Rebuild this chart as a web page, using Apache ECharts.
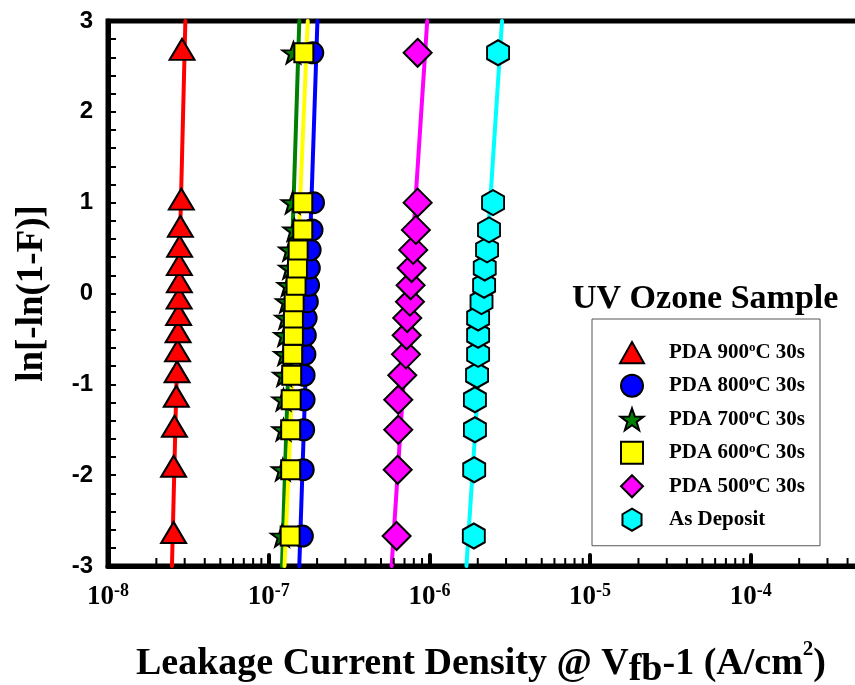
<!DOCTYPE html>
<html><head><meta charset="utf-8">
<script src="https://cdn.jsdelivr.net/npm/echarts@6/dist/echarts.min.js"></script>
<style>html,body{margin:0;padding:0;background:#fff}#c{width:855px;height:685px}</style>
</head><body><div id="c"></div>
<script>
// shared ln[-ln(1-F)] values (bottom to top)
const yValues = [-2.67, -1.94, -1.50, -1.17, -0.90, -0.67, -0.46, -0.27, -0.09, 0.09, 0.28, 0.48, 0.70, 1.00, 2.65];
const seriesNames = ['PDA 900°C 30s', 'PDA 800°C 30s', 'PDA 700°C 30s', 'PDA 600°C 30s', 'PDA 500°C 30s', 'As Deposit'];
// leakage current density (A/cm2) for each sample, same order as yValues
const j900 = [2.56e-8, 2.56e-8, 2.59e-8, 2.66e-8, 2.69e-8, 2.71e-8, 2.73e-8, 2.75e-8, 2.77e-8, 2.78e-8, 2.78e-8, 2.79e-8, 2.82e-8, 2.86e-8, 2.89e-8];
const j800 = [1.62e-7, 1.64e-7, 1.65e-7, 1.66e-7, 1.66e-7, 1.68e-7, 1.69e-7, 1.71e-7, 1.74e-7, 1.77e-7, 1.79e-7, 1.81e-7, 1.86e-7, 1.90e-7, 1.88e-7];
const j700 = [1.21e-7, 1.225e-7, 1.236e-7, 1.236e-7, 1.248e-7, 1.266e-7, 1.266e-7, 1.285e-7, 1.30e-7, 1.33e-7, 1.36e-7, 1.36e-7, 1.445e-7, 1.41e-7, 1.425e-7];
const j600 = [1.36e-7, 1.37e-7, 1.37e-7, 1.38e-7, 1.39e-7, 1.41e-7, 1.425e-7, 1.425e-7, 1.44e-7, 1.48e-7, 1.51e-7, 1.525e-7, 1.63e-7, 1.63e-7, 1.655e-7];
const j500 = [6.25e-7, 6.35e-7, 6.40e-7, 6.40e-7, 6.78e-7, 7.15e-7, 7.22e-7, 7.28e-7, 7.57e-7, 7.64e-7, 7.75e-7, 7.93e-7, 8.24e-7, 8.45e-7, 8.45e-7];
const jAsDep = [1.89e-6, 1.90e-6, 1.92e-6, 1.92e-6, 1.98e-6, 2.01e-6, 2.01e-6, 2.01e-6, 2.11e-6, 2.19e-6, 2.21e-6, 2.285e-6, 2.35e-6, 2.49e-6, 2.675e-6];
// fitted lines: x at y=-3 and x at y=3
const fitY = [-3, 3];
const fit900 = [2.50e-8, 3.03e-8];
const fit800 = [1.55e-7, 2.01e-7];
const fit700 = [1.21e-7, 1.55e-7];
const fit600 = [1.254e-7, 1.75e-7];
const fit500 = [5.82e-7, 9.69e-7];
const fitAsDep = [1.70e-6, 2.83e-6];
// axis ticks
const yTickLabels = [-3, -2, -1, 0, 1, 2, 3];
const xDecades = [1e-8, 1e-7, 1e-6, 1e-5, 1e-4, 1e-3];
const minorMultipliers = [2, 3, 4, 5, 6, 7, 8, 9];

const colors = ['#FF0000', '#0000FF', '#008000', '#FFFF00', '#FF00FF', '#00FFFF'];
const TRI = 'path://M0,-1 L1.13,1 L-1.13,1 Z';
const STAR = 'path://M0,-10 L2.35,-3.24 L9.51,-3.09 L3.8,1.24 L5.88,8.09 L0,4 L-5.88,8.09 L-3.8,1.24 L-9.51,-3.09 L-2.35,-3.24 Z';
const SQR = 'path://M-1,-1 L1,-1 L1,1 L-1,1 Z';
const DIA = 'path://M0,-1 L1,0 L0,1 L-1,0 Z';
const HEX = 'path://M0,-1 L0.866,-0.5 L0.866,0.5 L0,1 L-0.866,0.5 L-0.866,-0.5 Z';
const symbols = [TRI, 'circle', STAR, SQR, DIA, HEX];
const sizes = [[25, 21], 21, [22, 21], 19, [28, 28], [22, 25]];
const offsets = [[0, -3.5], [0, 0], [0, 0], [0, 0], [0, 0], [0, 0]];
const pointSets = [j900, j800, j700, j600, j500, jAsDep];
const fits = [fit900, fit800, fit700, fit600, fit500, fitAsDep];

const minorTicks = [];
xDecades.slice(0, -1).forEach(d => minorMultipliers.forEach(m => minorTicks.push(m * d)));

const serif = "'Liberation Serif', 'Times New Roman', serif";
const sans = "'Liberation Sans', Arial, sans-serif";

const series = [];
fits.forEach((f, i) => {
  series.push({
    type: 'line', name: 'fit' + i,
    data: [[f[0], fitY[0]], [f[1], fitY[1]]],
    symbol: 'none', silent: true, z: 2,
    lineStyle: { color: colors[i], width: 4, cap: 'round' }
  });
});
pointSets.forEach((p, i) => {
  series.push({
    type: 'scatter', name: seriesNames[i],
    data: p.map((v, k) => [v, yValues[k]]),
    symbol: symbols[i], symbolSize: sizes[i], symbolOffset: offsets[i], z: 3 + i,
    itemStyle: { color: colors[i], borderColor: '#000', borderWidth: 2, opacity: 1 }
  });
});
// minor log ticks on the bottom axis (2..9 of each decade)
series.push({
  type: 'custom', name: 'minorTicks', silent: true, z: 10, clip: false,
  data: minorTicks.map(v => [v, yTickLabels[0]]),
  renderItem: (params, api) => {
    const p = api.coord([api.value(0), api.value(1)]);
    return { type: 'line', shape: { x1: p[0], y1: p[1] - 2, x2: p[0], y2: p[1] - 8 },
             style: { stroke: '#000', lineWidth: 2 } };
  }
});

const chart = echarts.init(document.getElementById('c'), null, { renderer: 'canvas' });
chart.setOption({
  animation: false,
  backgroundColor: '#fff',
  grid: { left: 108, top: 21, width: 803.5, height: 545, outerBoundsMode: 'none', containLabel: false,
          show: true, borderColor: '#000', borderWidth: 5, backgroundColor: 'transparent' },
  title: [
    {
      text: '{a|Leakage Current Density @ V}{sub|fb}{a|-1 (A/cm}{sup|2}{a|)}',
      left: 136, top: 639, padding: 0,
      textStyle: { rich: {
        a: { fontSize: 38, fontFamily: serif, fontWeight: 'bold', color: '#000', lineHeight: 50 },
        sub: { fontSize: 38, fontFamily: serif, fontWeight: 'bold', color: '#000', lineHeight: 40, verticalAlign: 'bottom' },
        sup: { fontSize: 21, fontFamily: serif, fontWeight: 'bold', color: '#000', lineHeight: 22, verticalAlign: 'top' }
      } }
    },
    {
      text: 'UV Ozone Sample', left: 572, top: 281, padding: 0,
      textStyle: { fontSize: 34, fontFamily: serif, fontWeight: 'bold', color: '#000', lineHeight: 36 }
    }
  ],
  legend: {
    data: seriesNames,
    orient: 'vertical', left: 592, top: 319,
    padding: [22, 15, 14, 27],
    borderColor: '#555', borderWidth: 1,
    itemWidth: 24, itemHeight: 22, itemGap: 9.5,
    symbolKeepAspect: true,
    itemStyle: { borderColor: '#000', borderWidth: 2 },
    selectedMode: false,
    formatter: name => {
      const parts = name.split('°');
      if (parts.length === 2) return '{f|' + parts[0] + '}{o|o}{t|' + parts[1] + '}';
      return '{f|' + name + '}';
    },
    textStyle: { rich: {
      f: { fontSize: 21, fontFamily: serif, fontWeight: 'bold', color: '#000', lineHeight: 22, padding: [0, 0, 0, 20] },
      t: { fontSize: 21, fontFamily: serif, fontWeight: 'bold', color: '#000', lineHeight: 22 },
      o: { fontSize: 13, fontFamily: serif, fontWeight: 'bold', color: '#000', lineHeight: 13, verticalAlign: 'top' }
    } }
  },
  xAxis: {
    type: 'log', logBase: 10, min: xDecades[0], max: xDecades[xDecades.length - 1], position: 'bottom',
    axisLine: { show: true, onZero: false, lineStyle: { color: '#000', width: 5 } },
    axisTick: { show: true, inside: true, length: 11, lineStyle: { color: '#000', width: 4, cap: 'round' } },
    minorTick: { show: false },
    splitLine: { show: false },
    axisLabel: {
      margin: 16,
      formatter: v => '{b|10}{s|' + Math.round(Math.log10(v)) + '}',
      rich: {
        b: { fontSize: 27, fontFamily: serif, fontWeight: 'bold', color: '#000', lineHeight: 30 },
        s: { fontSize: 18, fontFamily: serif, fontWeight: 'bold', color: '#000', lineHeight: 18, verticalAlign: 'top' }
      }
    }
  },
  yAxis: {
    type: 'value', min: yTickLabels[0], max: yTickLabels[yTickLabels.length - 1], interval: 1,
    name: 'ln[-ln(1-F)]', nameLocation: 'middle', nameRotate: 90, nameGap: 57,
    nameTextStyle: { fontSize: 37, fontFamily: serif, fontWeight: 'bold', color: '#000' },
    axisLine: { show: true, onZero: false, lineStyle: { color: '#000', width: 5 } },
    axisTick: { show: true, inside: true, length: 8, lineStyle: { color: '#000', width: 2 } },
    minorTick: { show: true, splitNumber: 5, length: 8, lineStyle: { color: '#000', width: 2 } },
    splitLine: { show: false }, minorSplitLine: { show: false },
    axisLabel: { margin: 15, fontSize: 24, fontFamily: sans, fontWeight: 'bold', color: '#000' }
  },
  series: series
});
</script></body></html>
